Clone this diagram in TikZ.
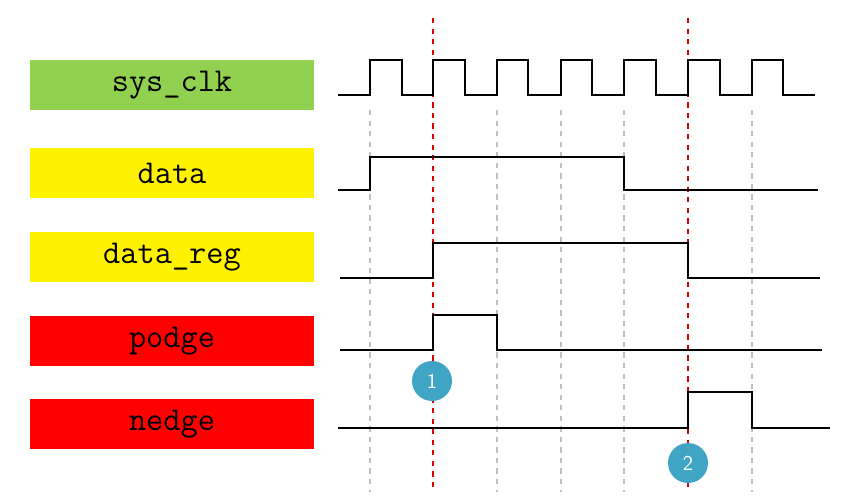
\documentclass[tikz,border=0pt]{standalone}
\usepackage{tikz}
\usetikzlibrary{positioning}
\definecolor{clkgreen}{RGB}{146,208,80}
\definecolor{mark}{RGB}{64,165,196}
\tikzset{
  label box/.style={minimum width=5.7cm, minimum height=1cm, inner sep=0pt, font=\ttfamily\fontsize{19}{19}\selectfont},
  wave/.style={line width=1pt},
  grid line/.style={gray!50, dashed, line width=0.6pt},
  edge line/.style={red!85!black, dashed, line width=1pt},
  num/.style={circle, fill=mark, minimum size=0.8cm, inner sep=0pt, text=white, font=\sffamily\large}
}
\begin{document}
\begin{tikzpicture}[x=0.02cm, y=-0.02cm]
  \useasboundingbox (0,0) rectangle (855,500);

  % labels
  \node[label box, fill=clkgreen] (clk) at (172,85) {sys\_clk};
  \node[label box, fill=yellow] (data) at (172,173) {data};
  \node[label box, fill=yellow] (reg) at (172,257) {data\_reg};
  \node[label box, fill=red] (podge) at (172,341) {podge};
  \node[label box, fill=red] (nedge) at (172,424) {nedge};

  % grid
  \foreach \x in {370,497,561,624,752}
    \draw[grid line] (\x,110) -- (\x,492);
  \foreach \x in {433,688}
    \draw[edge line] (\x,18) -- (\x,492);

  % waves
  \draw[wave] (338,95)
    \foreach \r/\f in {370/402,433/465,497/528,561/592,624/656,688/720,752/783}
      { -- (\r,95) -- (\r,60) -- (\f,60) -- (\f,95) } -- (815,95);
  \draw[wave] (338,190) -- (370,190) -- (370,157) -- (624,157) -- (624,190) -- (818,190);
  \draw[wave] (340,278) -- (433,278) -- (433,243) -- (688,243) -- (688,278) -- (820,278);
  \draw[wave] (340,350) -- (433,350) -- (433,315) -- (497,315) -- (497,350) -- (822,350);
  \draw[wave] (338,428) -- (688,428) -- (688,392) -- (752,392) -- (752,428) -- (830,428);

  % markers
  \node[num] (m1) at (432,381) {1};
  \node[num] (m2) at (688,463) {2};
\end{tikzpicture}
\end{document}
